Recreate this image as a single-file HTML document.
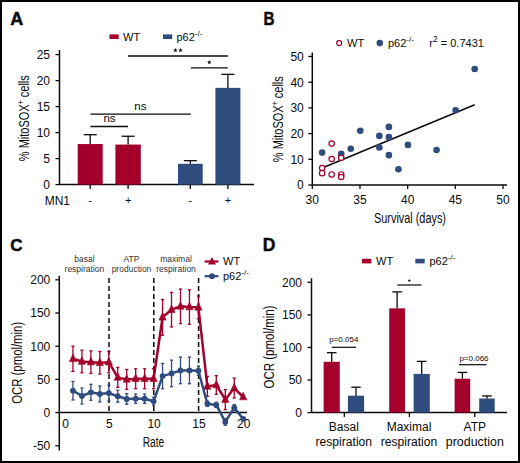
<!DOCTYPE html>
<html><head><meta charset="utf-8"><style>
html,body{margin:0;padding:0;background:#fff;}
svg{display:block;font-family:"Liberation Sans", sans-serif;}
</style></head><body>
<svg width="520" height="463" viewBox="0 0 520 463">
<rect x="0" y="0" width="520" height="463" fill="#fff"/>
<text x="10.30" y="25.00" font-size="18" text-anchor="start" font-weight="bold" fill="#0a0a0a" stroke="#111" stroke-width="0.5">A</text>
<line x1="59.50" y1="50.10" x2="59.50" y2="184.60" stroke="#0a0a0a" stroke-width="1.5" />
<line x1="59.50" y1="184.60" x2="254.00" y2="184.60" stroke="#0a0a0a" stroke-width="1.5" />
<line x1="90.20" y1="184.60" x2="90.20" y2="189.10" stroke="#0a0a0a" stroke-width="1.3" />
<line x1="128.10" y1="184.60" x2="128.10" y2="189.10" stroke="#0a0a0a" stroke-width="1.3" />
<line x1="190.30" y1="184.60" x2="190.30" y2="189.10" stroke="#0a0a0a" stroke-width="1.3" />
<line x1="227.90" y1="184.60" x2="227.90" y2="189.10" stroke="#0a0a0a" stroke-width="1.3" />
<line x1="55.50" y1="184.60" x2="59.50" y2="184.60" stroke="#0a0a0a" stroke-width="1.3" />
<text x="50.00" y="188.90" font-size="12" text-anchor="end" font-weight="normal" fill="#0a0a0a" >0</text>
<line x1="55.50" y1="158.60" x2="59.50" y2="158.60" stroke="#0a0a0a" stroke-width="1.3" />
<text x="50.00" y="162.90" font-size="12" text-anchor="end" font-weight="normal" fill="#0a0a0a" >5</text>
<line x1="55.50" y1="132.60" x2="59.50" y2="132.60" stroke="#0a0a0a" stroke-width="1.3" />
<text x="50.00" y="136.90" font-size="12" text-anchor="end" font-weight="normal" fill="#0a0a0a" >10</text>
<line x1="55.50" y1="106.60" x2="59.50" y2="106.60" stroke="#0a0a0a" stroke-width="1.3" />
<text x="50.00" y="110.90" font-size="12" text-anchor="end" font-weight="normal" fill="#0a0a0a" >15</text>
<line x1="55.50" y1="80.60" x2="59.50" y2="80.60" stroke="#0a0a0a" stroke-width="1.3" />
<text x="50.00" y="84.90" font-size="12" text-anchor="end" font-weight="normal" fill="#0a0a0a" >20</text>
<line x1="55.50" y1="54.60" x2="59.50" y2="54.60" stroke="#0a0a0a" stroke-width="1.3" />
<text x="50.00" y="58.90" font-size="12" text-anchor="end" font-weight="normal" fill="#0a0a0a" >25</text>
<text transform="translate(28.7,118.2) rotate(-90)" font-size="14.5" text-anchor="middle" fill="#0a0a0a" textLength="86" lengthAdjust="spacingAndGlyphs">% MitoSOX<tspan dy="-5" font-size="9">+</tspan><tspan dy="5"> cells</tspan></text>
<rect x="77.70" y="144.04" width="25.00" height="40.56" fill="#a3002c"/>
<line x1="90.20" y1="144.04" x2="90.20" y2="134.68" stroke="#0a0a0a" stroke-width="1.3" />
<line x1="83.70" y1="134.68" x2="96.70" y2="134.68" stroke="#0a0a0a" stroke-width="1.3" />
<rect x="115.40" y="144.56" width="25.40" height="40.04" fill="#a3002c"/>
<line x1="128.10" y1="144.56" x2="128.10" y2="136.24" stroke="#0a0a0a" stroke-width="1.3" />
<line x1="121.60" y1="136.24" x2="134.60" y2="136.24" stroke="#0a0a0a" stroke-width="1.3" />
<rect x="178.00" y="163.80" width="24.70" height="20.80" fill="#2f4c7e"/>
<line x1="190.35" y1="163.80" x2="190.35" y2="160.68" stroke="#0a0a0a" stroke-width="1.3" />
<line x1="183.85" y1="160.68" x2="196.85" y2="160.68" stroke="#0a0a0a" stroke-width="1.3" />
<rect x="215.40" y="87.88" width="25.00" height="96.72" fill="#2f4c7e"/>
<line x1="227.90" y1="87.88" x2="227.90" y2="74.36" stroke="#0a0a0a" stroke-width="1.3" />
<line x1="221.40" y1="74.36" x2="234.40" y2="74.36" stroke="#0a0a0a" stroke-width="1.3" />
<text x="70.00" y="204.50" font-size="12" text-anchor="end" font-weight="normal" fill="#0a0a0a" >MN1</text>
<text x="90.20" y="203.50" font-size="11" text-anchor="middle" font-weight="normal" fill="#0a0a0a" >-</text>
<text x="128.10" y="203.50" font-size="11" text-anchor="middle" font-weight="normal" fill="#0a0a0a" >+</text>
<text x="190.30" y="203.50" font-size="11" text-anchor="middle" font-weight="normal" fill="#0a0a0a" >-</text>
<text x="227.90" y="203.50" font-size="11" text-anchor="middle" font-weight="normal" fill="#0a0a0a" >+</text>
<line x1="90.40" y1="126.50" x2="128.00" y2="126.50" stroke="#0a0a0a" stroke-width="1.3" />
<text x="109.50" y="122.00" font-size="11.5" text-anchor="middle" font-weight="normal" fill="#0a0a0a" >ns</text>
<line x1="90.40" y1="114.20" x2="190.80" y2="114.20" stroke="#0a0a0a" stroke-width="1.3" />
<text x="140.40" y="110.00" font-size="11.5" text-anchor="middle" font-weight="normal" fill="#0a0a0a" >ns</text>
<line x1="128.00" y1="56.00" x2="227.80" y2="56.00" stroke="#0a0a0a" stroke-width="1.3" />
<polygon points="175.40,47.80 175.99,49.38 177.68,49.46 176.36,50.51 176.81,52.14 175.40,51.21 173.99,52.14 174.44,50.51 173.12,49.46 174.81,49.38" fill="#0a0a0a"/>
<polygon points="180.50,47.80 181.09,49.38 182.78,49.46 181.46,50.51 181.91,52.14 180.50,51.21 179.09,52.14 179.54,50.51 178.22,49.46 179.91,49.38" fill="#0a0a0a"/>
<line x1="190.90" y1="67.90" x2="227.80" y2="67.90" stroke="#0a0a0a" stroke-width="1.3" />
<polygon points="209.30,59.80 209.89,61.38 211.58,61.46 210.26,62.51 210.71,64.14 209.30,63.21 207.89,64.14 208.34,62.51 207.02,61.46 208.71,61.38" fill="#0a0a0a"/>
<rect x="109.50" y="34.40" width="9.20" height="4.60" fill="#a3002c"/>
<text x="123.00" y="41.00" font-size="11" text-anchor="start" font-weight="normal" fill="#0a0a0a" >WT</text>
<rect x="163.00" y="34.40" width="9.20" height="4.60" fill="#2f4c7e"/>
<text x="176.40" y="41.00" font-size="11" text-anchor="start" font-weight="normal" fill="#0a0a0a" >p62<tspan dy="-5" font-size="8">-/-</tspan></text>
<text x="263.40" y="25.00" font-size="17.5" text-anchor="start" font-weight="bold" fill="#0a0a0a" stroke="#111" stroke-width="0.5" textLength="11" lengthAdjust="spacingAndGlyphs">B</text>
<line x1="312.30" y1="52.50" x2="312.30" y2="185.00" stroke="#0a0a0a" stroke-width="1.5" />
<line x1="312.30" y1="185.00" x2="507.00" y2="185.00" stroke="#0a0a0a" stroke-width="1.5" />
<line x1="308.30" y1="185.00" x2="312.30" y2="185.00" stroke="#0a0a0a" stroke-width="1.3" />
<text x="303.80" y="189.30" font-size="12" text-anchor="end" font-weight="normal" fill="#0a0a0a" >0</text>
<line x1="308.30" y1="159.30" x2="312.30" y2="159.30" stroke="#0a0a0a" stroke-width="1.3" />
<text x="303.80" y="163.60" font-size="12" text-anchor="end" font-weight="normal" fill="#0a0a0a" >10</text>
<line x1="308.30" y1="133.60" x2="312.30" y2="133.60" stroke="#0a0a0a" stroke-width="1.3" />
<text x="303.80" y="137.90" font-size="12" text-anchor="end" font-weight="normal" fill="#0a0a0a" >20</text>
<line x1="308.30" y1="107.90" x2="312.30" y2="107.90" stroke="#0a0a0a" stroke-width="1.3" />
<text x="303.80" y="112.20" font-size="12" text-anchor="end" font-weight="normal" fill="#0a0a0a" >30</text>
<line x1="308.30" y1="82.20" x2="312.30" y2="82.20" stroke="#0a0a0a" stroke-width="1.3" />
<text x="303.80" y="86.50" font-size="12" text-anchor="end" font-weight="normal" fill="#0a0a0a" >40</text>
<line x1="308.30" y1="56.50" x2="312.30" y2="56.50" stroke="#0a0a0a" stroke-width="1.3" />
<text x="303.80" y="60.80" font-size="12" text-anchor="end" font-weight="normal" fill="#0a0a0a" >50</text>
<line x1="312.30" y1="185.00" x2="312.30" y2="189.00" stroke="#0a0a0a" stroke-width="1.3" />
<text x="312.30" y="204.30" font-size="12" text-anchor="middle" font-weight="normal" fill="#0a0a0a" >30</text>
<line x1="359.98" y1="185.00" x2="359.98" y2="189.00" stroke="#0a0a0a" stroke-width="1.3" />
<text x="359.98" y="204.30" font-size="12" text-anchor="middle" font-weight="normal" fill="#0a0a0a" >35</text>
<line x1="407.65" y1="185.00" x2="407.65" y2="189.00" stroke="#0a0a0a" stroke-width="1.3" />
<text x="407.65" y="204.30" font-size="12" text-anchor="middle" font-weight="normal" fill="#0a0a0a" >40</text>
<line x1="455.33" y1="185.00" x2="455.33" y2="189.00" stroke="#0a0a0a" stroke-width="1.3" />
<text x="455.33" y="204.30" font-size="12" text-anchor="middle" font-weight="normal" fill="#0a0a0a" >45</text>
<line x1="503.00" y1="185.00" x2="503.00" y2="189.00" stroke="#0a0a0a" stroke-width="1.3" />
<text x="503.00" y="204.30" font-size="12" text-anchor="middle" font-weight="normal" fill="#0a0a0a" >50</text>
<text x="410.00" y="222.80" font-size="14" text-anchor="middle" font-weight="normal" fill="#0a0a0a" textLength="72" lengthAdjust="spacingAndGlyphs">Survival (days)</text>
<text transform="translate(282.8,119.2) rotate(-90)" font-size="14.5" text-anchor="middle" fill="#0a0a0a" textLength="86" lengthAdjust="spacingAndGlyphs">% MitoSOX<tspan dy="-5" font-size="9">+</tspan><tspan dy="5"> cells</tspan></text>
<line x1="322.14" y1="168.01" x2="474.69" y2="104.79" stroke="#0a0a0a" stroke-width="1.5" />
<circle cx="322.14" cy="152.59" r="3.3" fill="#2f4c7e"/>
<circle cx="341.21" cy="153.88" r="3.3" fill="#2f4c7e"/>
<circle cx="350.74" cy="148.74" r="3.3" fill="#2f4c7e"/>
<circle cx="360.28" cy="130.75" r="3.3" fill="#2f4c7e"/>
<circle cx="379.35" cy="135.88" r="3.3" fill="#2f4c7e"/>
<circle cx="379.35" cy="147.45" r="3.3" fill="#2f4c7e"/>
<circle cx="388.88" cy="126.89" r="3.3" fill="#2f4c7e"/>
<circle cx="388.88" cy="137.17" r="3.3" fill="#2f4c7e"/>
<circle cx="388.88" cy="155.16" r="3.3" fill="#2f4c7e"/>
<circle cx="398.42" cy="169.30" r="3.3" fill="#2f4c7e"/>
<circle cx="407.95" cy="144.88" r="3.3" fill="#2f4c7e"/>
<circle cx="436.56" cy="150.02" r="3.3" fill="#2f4c7e"/>
<circle cx="455.63" cy="110.19" r="3.3" fill="#2f4c7e"/>
<circle cx="474.69" cy="69.07" r="3.3" fill="#2f4c7e"/>
<circle cx="322.14" cy="168.01" r="2.7" fill="white" stroke="#a3002c" stroke-width="1.2"/>
<circle cx="322.14" cy="173.15" r="2.7" fill="white" stroke="#a3002c" stroke-width="1.2"/>
<circle cx="331.67" cy="143.59" r="2.7" fill="white" stroke="#a3002c" stroke-width="1.2"/>
<circle cx="331.67" cy="159.01" r="2.7" fill="white" stroke="#a3002c" stroke-width="1.2"/>
<circle cx="331.67" cy="174.44" r="2.7" fill="white" stroke="#a3002c" stroke-width="1.2"/>
<circle cx="341.21" cy="157.73" r="2.7" fill="white" stroke="#a3002c" stroke-width="1.2"/>
<circle cx="341.21" cy="174.44" r="2.7" fill="white" stroke="#a3002c" stroke-width="1.2"/>
<circle cx="341.21" cy="177.00" r="2.7" fill="white" stroke="#a3002c" stroke-width="1.2"/>
<circle cx="339.2" cy="43.1" r="2.5" fill="white" stroke="#a3002c" stroke-width="1.2"/>
<text x="347.00" y="47.00" font-size="11" text-anchor="start" font-weight="normal" fill="#0a0a0a" >WT</text>
<circle cx="379.8" cy="43.1" r="3.3" fill="#2f4c7e"/>
<text x="388.00" y="47.00" font-size="11" text-anchor="start" font-weight="normal" fill="#0a0a0a" >p62<tspan dy="-5" font-size="8">-/-</tspan></text>
<text x="429.30" y="47.00" font-size="11" text-anchor="start" font-weight="normal" fill="#0a0a0a" >r<tspan dy="-5" font-size="8.5">2</tspan><tspan dy="5"> = 0.7431</tspan></text>
<text x="10.30" y="251.00" font-size="17" text-anchor="start" font-weight="bold" fill="#0a0a0a" stroke="#111" stroke-width="0.5">C</text>
<line x1="59.30" y1="275.80" x2="59.30" y2="450.50" stroke="#0a0a0a" stroke-width="1.5" />
<line x1="59.30" y1="412.60" x2="247.00" y2="412.60" stroke="#0a0a0a" stroke-width="1.5" />
<line x1="55.30" y1="445.80" x2="59.30" y2="445.80" stroke="#0a0a0a" stroke-width="1.3" />
<text x="50.30" y="450.10" font-size="12" text-anchor="end" font-weight="normal" fill="#0a0a0a" >-50</text>
<line x1="55.30" y1="412.60" x2="59.30" y2="412.60" stroke="#0a0a0a" stroke-width="1.3" />
<text x="50.30" y="416.90" font-size="12" text-anchor="end" font-weight="normal" fill="#0a0a0a" >0</text>
<line x1="55.30" y1="379.40" x2="59.30" y2="379.40" stroke="#0a0a0a" stroke-width="1.3" />
<text x="50.30" y="383.70" font-size="12" text-anchor="end" font-weight="normal" fill="#0a0a0a" >50</text>
<line x1="55.30" y1="346.20" x2="59.30" y2="346.20" stroke="#0a0a0a" stroke-width="1.3" />
<text x="50.30" y="350.50" font-size="12" text-anchor="end" font-weight="normal" fill="#0a0a0a" >100</text>
<line x1="55.30" y1="313.00" x2="59.30" y2="313.00" stroke="#0a0a0a" stroke-width="1.3" />
<text x="50.30" y="317.30" font-size="12" text-anchor="end" font-weight="normal" fill="#0a0a0a" >150</text>
<line x1="55.30" y1="279.80" x2="59.30" y2="279.80" stroke="#0a0a0a" stroke-width="1.3" />
<text x="50.30" y="284.10" font-size="12" text-anchor="end" font-weight="normal" fill="#0a0a0a" >200</text>
<text x="65.50" y="428.10" font-size="12" text-anchor="middle" font-weight="normal" fill="#0a0a0a" >0</text>
<text x="109.30" y="428.10" font-size="12" text-anchor="middle" font-weight="normal" fill="#0a0a0a" >5</text>
<text x="154.10" y="428.10" font-size="12" text-anchor="middle" font-weight="normal" fill="#0a0a0a" >10</text>
<text x="198.90" y="428.10" font-size="12" text-anchor="middle" font-weight="normal" fill="#0a0a0a" >15</text>
<text x="243.70" y="428.10" font-size="12" text-anchor="middle" font-weight="normal" fill="#0a0a0a" >20</text>
<text x="153.50" y="447.00" font-size="14" text-anchor="middle" font-weight="normal" fill="#0a0a0a" textLength="21.5" lengthAdjust="spacingAndGlyphs">Rate</text>
<text transform="translate(22.3,362.8) rotate(-90)" font-size="14" text-anchor="middle" fill="#0a0a0a" textLength="82" lengthAdjust="spacingAndGlyphs">OCR (pmol/min)</text>
<line x1="109.00" y1="278.00" x2="109.00" y2="411.00" stroke="#0a0a0a" stroke-width="1.5" stroke-dasharray="5,3"/>
<line x1="153.80" y1="278.00" x2="153.80" y2="411.00" stroke="#0a0a0a" stroke-width="1.5" stroke-dasharray="5,3"/>
<line x1="198.60" y1="278.00" x2="198.60" y2="411.00" stroke="#0a0a0a" stroke-width="1.5" stroke-dasharray="5,3"/>
<text x="84.40" y="262.00" font-size="8.5" text-anchor="middle" font-weight="normal" fill="#333" >basal</text>
<text x="84.40" y="272.00" font-size="8.5" text-anchor="middle" font-weight="normal" fill="#333" >respiration</text>
<text x="131.50" y="262.00" font-size="8.5" text-anchor="middle" font-weight="normal" fill="#333" >ATP</text>
<text x="131.50" y="272.00" font-size="8.5" text-anchor="middle" font-weight="normal" fill="#333" >production</text>
<text x="176.00" y="262.00" font-size="8.5" text-anchor="middle" font-weight="normal" fill="#333" >maximal</text>
<text x="176.00" y="272.00" font-size="8.5" text-anchor="middle" font-weight="normal" fill="#333" >respiration</text>
<polyline points="72.96,358.82 81.92,361.47 90.88,362.14 99.84,362.80 108.80,362.14 117.76,377.41 126.72,379.40 135.68,378.74 144.64,378.74 153.60,378.74 162.56,317.32 171.52,309.68 180.48,306.36 189.44,307.02 198.40,307.36 207.36,386.37 216.32,384.98 225.28,399.65 234.24,388.03 243.20,397.00" fill="none" stroke="#a3002c" stroke-width="2.5" stroke-linejoin="round"/>
<line x1="72.96" y1="371.43" x2="72.96" y2="346.20" stroke="#a3002c" stroke-width="1.3" />
<line x1="71.36" y1="346.20" x2="74.56" y2="346.20" stroke="#a3002c" stroke-width="1.3" />
<line x1="71.36" y1="371.43" x2="74.56" y2="371.43" stroke="#a3002c" stroke-width="1.3" />
<polygon points="72.96,354.02 69.36,361.62 76.56,361.62" fill="#a3002c" stroke="#a3002c" stroke-width="0.6" stroke-linejoin="round"/>
<line x1="81.92" y1="372.76" x2="81.92" y2="350.18" stroke="#a3002c" stroke-width="1.3" />
<line x1="80.32" y1="350.18" x2="83.52" y2="350.18" stroke="#a3002c" stroke-width="1.3" />
<line x1="80.32" y1="372.76" x2="83.52" y2="372.76" stroke="#a3002c" stroke-width="1.3" />
<polygon points="81.92,356.67 78.32,364.27 85.52,364.27" fill="#a3002c" stroke="#a3002c" stroke-width="0.6" stroke-linejoin="round"/>
<line x1="90.88" y1="373.42" x2="90.88" y2="350.85" stroke="#a3002c" stroke-width="1.3" />
<line x1="89.28" y1="350.85" x2="92.48" y2="350.85" stroke="#a3002c" stroke-width="1.3" />
<line x1="89.28" y1="373.42" x2="92.48" y2="373.42" stroke="#a3002c" stroke-width="1.3" />
<polygon points="90.88,357.34 87.28,364.94 94.48,364.94" fill="#a3002c" stroke="#a3002c" stroke-width="0.6" stroke-linejoin="round"/>
<line x1="99.84" y1="374.09" x2="99.84" y2="351.51" stroke="#a3002c" stroke-width="1.3" />
<line x1="98.24" y1="351.51" x2="101.44" y2="351.51" stroke="#a3002c" stroke-width="1.3" />
<line x1="98.24" y1="374.09" x2="101.44" y2="374.09" stroke="#a3002c" stroke-width="1.3" />
<polygon points="99.84,358.00 96.24,365.60 103.44,365.60" fill="#a3002c" stroke="#a3002c" stroke-width="0.6" stroke-linejoin="round"/>
<line x1="108.80" y1="372.76" x2="108.80" y2="351.51" stroke="#a3002c" stroke-width="1.3" />
<line x1="107.20" y1="351.51" x2="110.40" y2="351.51" stroke="#a3002c" stroke-width="1.3" />
<line x1="107.20" y1="372.76" x2="110.40" y2="372.76" stroke="#a3002c" stroke-width="1.3" />
<polygon points="108.80,357.34 105.20,364.94 112.40,364.94" fill="#a3002c" stroke="#a3002c" stroke-width="0.6" stroke-linejoin="round"/>
<line x1="117.76" y1="387.37" x2="117.76" y2="367.45" stroke="#a3002c" stroke-width="1.3" />
<line x1="116.16" y1="367.45" x2="119.36" y2="367.45" stroke="#a3002c" stroke-width="1.3" />
<line x1="116.16" y1="387.37" x2="119.36" y2="387.37" stroke="#a3002c" stroke-width="1.3" />
<polygon points="117.76,372.61 114.16,380.21 121.36,380.21" fill="#a3002c" stroke="#a3002c" stroke-width="0.6" stroke-linejoin="round"/>
<line x1="126.72" y1="389.36" x2="126.72" y2="369.44" stroke="#a3002c" stroke-width="1.3" />
<line x1="125.12" y1="369.44" x2="128.32" y2="369.44" stroke="#a3002c" stroke-width="1.3" />
<line x1="125.12" y1="389.36" x2="128.32" y2="389.36" stroke="#a3002c" stroke-width="1.3" />
<polygon points="126.72,374.60 123.12,382.20 130.32,382.20" fill="#a3002c" stroke="#a3002c" stroke-width="0.6" stroke-linejoin="round"/>
<line x1="135.68" y1="388.70" x2="135.68" y2="368.78" stroke="#a3002c" stroke-width="1.3" />
<line x1="134.08" y1="368.78" x2="137.28" y2="368.78" stroke="#a3002c" stroke-width="1.3" />
<line x1="134.08" y1="388.70" x2="137.28" y2="388.70" stroke="#a3002c" stroke-width="1.3" />
<polygon points="135.68,373.94 132.08,381.54 139.28,381.54" fill="#a3002c" stroke="#a3002c" stroke-width="0.6" stroke-linejoin="round"/>
<line x1="144.64" y1="388.70" x2="144.64" y2="368.78" stroke="#a3002c" stroke-width="1.3" />
<line x1="143.04" y1="368.78" x2="146.24" y2="368.78" stroke="#a3002c" stroke-width="1.3" />
<line x1="143.04" y1="388.70" x2="146.24" y2="388.70" stroke="#a3002c" stroke-width="1.3" />
<polygon points="144.64,373.94 141.04,381.54 148.24,381.54" fill="#a3002c" stroke="#a3002c" stroke-width="0.6" stroke-linejoin="round"/>
<line x1="153.60" y1="388.70" x2="153.60" y2="368.78" stroke="#a3002c" stroke-width="1.3" />
<line x1="152.00" y1="368.78" x2="155.20" y2="368.78" stroke="#a3002c" stroke-width="1.3" />
<line x1="152.00" y1="388.70" x2="155.20" y2="388.70" stroke="#a3002c" stroke-width="1.3" />
<polygon points="153.60,373.94 150.00,381.54 157.20,381.54" fill="#a3002c" stroke="#a3002c" stroke-width="0.6" stroke-linejoin="round"/>
<line x1="162.56" y1="335.24" x2="162.56" y2="299.39" stroke="#a3002c" stroke-width="1.3" />
<line x1="160.96" y1="299.39" x2="164.16" y2="299.39" stroke="#a3002c" stroke-width="1.3" />
<line x1="160.96" y1="335.24" x2="164.16" y2="335.24" stroke="#a3002c" stroke-width="1.3" />
<polygon points="162.56,312.52 158.96,320.12 166.16,320.12" fill="#a3002c" stroke="#a3002c" stroke-width="0.6" stroke-linejoin="round"/>
<line x1="171.52" y1="326.94" x2="171.52" y2="292.42" stroke="#a3002c" stroke-width="1.3" />
<line x1="169.92" y1="292.42" x2="173.12" y2="292.42" stroke="#a3002c" stroke-width="1.3" />
<line x1="169.92" y1="326.94" x2="173.12" y2="326.94" stroke="#a3002c" stroke-width="1.3" />
<polygon points="171.52,304.88 167.92,312.48 175.12,312.48" fill="#a3002c" stroke="#a3002c" stroke-width="0.6" stroke-linejoin="round"/>
<line x1="180.48" y1="323.62" x2="180.48" y2="289.10" stroke="#a3002c" stroke-width="1.3" />
<line x1="178.88" y1="289.10" x2="182.08" y2="289.10" stroke="#a3002c" stroke-width="1.3" />
<line x1="178.88" y1="323.62" x2="182.08" y2="323.62" stroke="#a3002c" stroke-width="1.3" />
<polygon points="180.48,301.56 176.88,309.16 184.08,309.16" fill="#a3002c" stroke="#a3002c" stroke-width="0.6" stroke-linejoin="round"/>
<line x1="189.44" y1="324.29" x2="189.44" y2="289.76" stroke="#a3002c" stroke-width="1.3" />
<line x1="187.84" y1="289.76" x2="191.04" y2="289.76" stroke="#a3002c" stroke-width="1.3" />
<line x1="187.84" y1="324.29" x2="191.04" y2="324.29" stroke="#a3002c" stroke-width="1.3" />
<polygon points="189.44,302.22 185.84,309.82 193.04,309.82" fill="#a3002c" stroke="#a3002c" stroke-width="0.6" stroke-linejoin="round"/>
<line x1="198.40" y1="318.64" x2="198.40" y2="296.07" stroke="#a3002c" stroke-width="1.3" />
<line x1="196.80" y1="296.07" x2="200.00" y2="296.07" stroke="#a3002c" stroke-width="1.3" />
<line x1="196.80" y1="318.64" x2="200.00" y2="318.64" stroke="#a3002c" stroke-width="1.3" />
<polygon points="198.40,302.56 194.80,310.16 202.00,310.16" fill="#a3002c" stroke="#a3002c" stroke-width="0.6" stroke-linejoin="round"/>
<line x1="207.36" y1="396.33" x2="207.36" y2="376.41" stroke="#a3002c" stroke-width="1.3" />
<line x1="205.76" y1="376.41" x2="208.96" y2="376.41" stroke="#a3002c" stroke-width="1.3" />
<line x1="205.76" y1="396.33" x2="208.96" y2="396.33" stroke="#a3002c" stroke-width="1.3" />
<polygon points="207.36,381.57 203.76,389.17 210.96,389.17" fill="#a3002c" stroke="#a3002c" stroke-width="0.6" stroke-linejoin="round"/>
<line x1="216.32" y1="394.27" x2="216.32" y2="375.68" stroke="#a3002c" stroke-width="1.3" />
<line x1="214.72" y1="375.68" x2="217.92" y2="375.68" stroke="#a3002c" stroke-width="1.3" />
<line x1="214.72" y1="394.27" x2="217.92" y2="394.27" stroke="#a3002c" stroke-width="1.3" />
<polygon points="216.32,380.18 212.72,387.78 219.92,387.78" fill="#a3002c" stroke="#a3002c" stroke-width="0.6" stroke-linejoin="round"/>
<line x1="225.28" y1="409.61" x2="225.28" y2="389.69" stroke="#a3002c" stroke-width="1.3" />
<line x1="223.68" y1="389.69" x2="226.88" y2="389.69" stroke="#a3002c" stroke-width="1.3" />
<line x1="223.68" y1="409.61" x2="226.88" y2="409.61" stroke="#a3002c" stroke-width="1.3" />
<polygon points="225.28,394.85 221.68,402.45 228.88,402.45" fill="#a3002c" stroke="#a3002c" stroke-width="0.6" stroke-linejoin="round"/>
<line x1="234.24" y1="397.99" x2="234.24" y2="378.07" stroke="#a3002c" stroke-width="1.3" />
<line x1="232.64" y1="378.07" x2="235.84" y2="378.07" stroke="#a3002c" stroke-width="1.3" />
<line x1="232.64" y1="397.99" x2="235.84" y2="397.99" stroke="#a3002c" stroke-width="1.3" />
<polygon points="234.24,383.23 230.64,390.83 237.84,390.83" fill="#a3002c" stroke="#a3002c" stroke-width="0.6" stroke-linejoin="round"/>
<polygon points="243.20,392.20 239.60,399.80 246.80,399.80" fill="#a3002c" stroke="#a3002c" stroke-width="0.6" stroke-linejoin="round"/>
<polyline points="72.96,390.69 81.92,396.00 90.88,392.28 99.84,394.01 108.80,393.08 117.76,396.20 126.72,398.99 135.68,398.72 144.64,398.72 153.60,401.31 162.56,376.08 171.52,373.42 180.48,370.44 189.44,370.44 198.40,370.77 207.36,403.77 216.32,404.90 225.28,421.90 234.24,407.62 243.20,418.97" fill="none" stroke="#2f4c7e" stroke-width="2.5" stroke-linejoin="round"/>
<line x1="72.96" y1="399.98" x2="72.96" y2="381.39" stroke="#2f4c7e" stroke-width="1.3" />
<line x1="71.36" y1="381.39" x2="74.56" y2="381.39" stroke="#2f4c7e" stroke-width="1.3" />
<line x1="71.36" y1="399.98" x2="74.56" y2="399.98" stroke="#2f4c7e" stroke-width="1.3" />
<circle cx="72.96" cy="390.69" r="2.9" fill="#2f4c7e"/>
<line x1="81.92" y1="403.97" x2="81.92" y2="388.03" stroke="#2f4c7e" stroke-width="1.3" />
<line x1="80.32" y1="388.03" x2="83.52" y2="388.03" stroke="#2f4c7e" stroke-width="1.3" />
<line x1="80.32" y1="403.97" x2="83.52" y2="403.97" stroke="#2f4c7e" stroke-width="1.3" />
<circle cx="81.92" cy="396.00" r="2.9" fill="#2f4c7e"/>
<line x1="90.88" y1="400.25" x2="90.88" y2="384.31" stroke="#2f4c7e" stroke-width="1.3" />
<line x1="89.28" y1="384.31" x2="92.48" y2="384.31" stroke="#2f4c7e" stroke-width="1.3" />
<line x1="89.28" y1="400.25" x2="92.48" y2="400.25" stroke="#2f4c7e" stroke-width="1.3" />
<circle cx="90.88" cy="392.28" r="2.9" fill="#2f4c7e"/>
<line x1="99.84" y1="401.98" x2="99.84" y2="386.04" stroke="#2f4c7e" stroke-width="1.3" />
<line x1="98.24" y1="386.04" x2="101.44" y2="386.04" stroke="#2f4c7e" stroke-width="1.3" />
<line x1="98.24" y1="401.98" x2="101.44" y2="401.98" stroke="#2f4c7e" stroke-width="1.3" />
<circle cx="99.84" cy="394.01" r="2.9" fill="#2f4c7e"/>
<line x1="108.80" y1="401.05" x2="108.80" y2="385.11" stroke="#2f4c7e" stroke-width="1.3" />
<line x1="107.20" y1="385.11" x2="110.40" y2="385.11" stroke="#2f4c7e" stroke-width="1.3" />
<line x1="107.20" y1="401.05" x2="110.40" y2="401.05" stroke="#2f4c7e" stroke-width="1.3" />
<circle cx="108.80" cy="393.08" r="2.9" fill="#2f4c7e"/>
<line x1="117.76" y1="402.18" x2="117.76" y2="390.22" stroke="#2f4c7e" stroke-width="1.3" />
<line x1="116.16" y1="390.22" x2="119.36" y2="390.22" stroke="#2f4c7e" stroke-width="1.3" />
<line x1="116.16" y1="402.18" x2="119.36" y2="402.18" stroke="#2f4c7e" stroke-width="1.3" />
<circle cx="117.76" cy="396.20" r="2.9" fill="#2f4c7e"/>
<line x1="126.72" y1="404.30" x2="126.72" y2="393.68" stroke="#2f4c7e" stroke-width="1.3" />
<line x1="125.12" y1="393.68" x2="128.32" y2="393.68" stroke="#2f4c7e" stroke-width="1.3" />
<line x1="125.12" y1="404.30" x2="128.32" y2="404.30" stroke="#2f4c7e" stroke-width="1.3" />
<circle cx="126.72" cy="398.99" r="2.9" fill="#2f4c7e"/>
<line x1="135.68" y1="403.37" x2="135.68" y2="394.07" stroke="#2f4c7e" stroke-width="1.3" />
<line x1="134.08" y1="394.07" x2="137.28" y2="394.07" stroke="#2f4c7e" stroke-width="1.3" />
<line x1="134.08" y1="403.37" x2="137.28" y2="403.37" stroke="#2f4c7e" stroke-width="1.3" />
<circle cx="135.68" cy="398.72" r="2.9" fill="#2f4c7e"/>
<line x1="144.64" y1="403.37" x2="144.64" y2="394.07" stroke="#2f4c7e" stroke-width="1.3" />
<line x1="143.04" y1="394.07" x2="146.24" y2="394.07" stroke="#2f4c7e" stroke-width="1.3" />
<line x1="143.04" y1="403.37" x2="146.24" y2="403.37" stroke="#2f4c7e" stroke-width="1.3" />
<circle cx="144.64" cy="398.72" r="2.9" fill="#2f4c7e"/>
<line x1="153.60" y1="405.30" x2="153.60" y2="397.33" stroke="#2f4c7e" stroke-width="1.3" />
<line x1="152.00" y1="397.33" x2="155.20" y2="397.33" stroke="#2f4c7e" stroke-width="1.3" />
<line x1="152.00" y1="405.30" x2="155.20" y2="405.30" stroke="#2f4c7e" stroke-width="1.3" />
<circle cx="153.60" cy="401.31" r="2.9" fill="#2f4c7e"/>
<line x1="162.56" y1="388.70" x2="162.56" y2="363.46" stroke="#2f4c7e" stroke-width="1.3" />
<line x1="160.96" y1="363.46" x2="164.16" y2="363.46" stroke="#2f4c7e" stroke-width="1.3" />
<line x1="160.96" y1="388.70" x2="164.16" y2="388.70" stroke="#2f4c7e" stroke-width="1.3" />
<circle cx="162.56" cy="376.08" r="2.9" fill="#2f4c7e"/>
<line x1="171.52" y1="386.70" x2="171.52" y2="360.14" stroke="#2f4c7e" stroke-width="1.3" />
<line x1="169.92" y1="360.14" x2="173.12" y2="360.14" stroke="#2f4c7e" stroke-width="1.3" />
<line x1="169.92" y1="386.70" x2="173.12" y2="386.70" stroke="#2f4c7e" stroke-width="1.3" />
<circle cx="171.52" cy="373.42" r="2.9" fill="#2f4c7e"/>
<line x1="180.48" y1="383.72" x2="180.48" y2="357.16" stroke="#2f4c7e" stroke-width="1.3" />
<line x1="178.88" y1="357.16" x2="182.08" y2="357.16" stroke="#2f4c7e" stroke-width="1.3" />
<line x1="178.88" y1="383.72" x2="182.08" y2="383.72" stroke="#2f4c7e" stroke-width="1.3" />
<circle cx="180.48" cy="370.44" r="2.9" fill="#2f4c7e"/>
<line x1="189.44" y1="383.72" x2="189.44" y2="357.16" stroke="#2f4c7e" stroke-width="1.3" />
<line x1="187.84" y1="357.16" x2="191.04" y2="357.16" stroke="#2f4c7e" stroke-width="1.3" />
<line x1="187.84" y1="383.72" x2="191.04" y2="383.72" stroke="#2f4c7e" stroke-width="1.3" />
<circle cx="189.44" cy="370.44" r="2.9" fill="#2f4c7e"/>
<line x1="198.40" y1="375.42" x2="198.40" y2="366.12" stroke="#2f4c7e" stroke-width="1.3" />
<line x1="196.80" y1="366.12" x2="200.00" y2="366.12" stroke="#2f4c7e" stroke-width="1.3" />
<line x1="196.80" y1="375.42" x2="200.00" y2="375.42" stroke="#2f4c7e" stroke-width="1.3" />
<circle cx="198.40" cy="370.77" r="2.9" fill="#2f4c7e"/>
<line x1="207.36" y1="406.42" x2="207.36" y2="401.11" stroke="#2f4c7e" stroke-width="1.3" />
<line x1="205.76" y1="401.11" x2="208.96" y2="401.11" stroke="#2f4c7e" stroke-width="1.3" />
<line x1="205.76" y1="406.42" x2="208.96" y2="406.42" stroke="#2f4c7e" stroke-width="1.3" />
<circle cx="207.36" cy="403.77" r="2.9" fill="#2f4c7e"/>
<line x1="216.32" y1="407.55" x2="216.32" y2="402.24" stroke="#2f4c7e" stroke-width="1.3" />
<line x1="214.72" y1="402.24" x2="217.92" y2="402.24" stroke="#2f4c7e" stroke-width="1.3" />
<line x1="214.72" y1="407.55" x2="217.92" y2="407.55" stroke="#2f4c7e" stroke-width="1.3" />
<circle cx="216.32" cy="404.90" r="2.9" fill="#2f4c7e"/>
<line x1="225.28" y1="425.22" x2="225.28" y2="418.58" stroke="#2f4c7e" stroke-width="1.3" />
<line x1="223.68" y1="418.58" x2="226.88" y2="418.58" stroke="#2f4c7e" stroke-width="1.3" />
<line x1="223.68" y1="425.22" x2="226.88" y2="425.22" stroke="#2f4c7e" stroke-width="1.3" />
<circle cx="225.28" cy="421.90" r="2.9" fill="#2f4c7e"/>
<line x1="234.24" y1="410.67" x2="234.24" y2="404.57" stroke="#2f4c7e" stroke-width="1.3" />
<line x1="232.64" y1="404.57" x2="235.84" y2="404.57" stroke="#2f4c7e" stroke-width="1.3" />
<line x1="232.64" y1="410.67" x2="235.84" y2="410.67" stroke="#2f4c7e" stroke-width="1.3" />
<circle cx="234.24" cy="407.62" r="2.9" fill="#2f4c7e"/>
<circle cx="243.20" cy="418.97" r="2.9" fill="#2f4c7e"/>
<line x1="204.60" y1="261.50" x2="218.50" y2="261.50" stroke="#a3002c" stroke-width="2.2" />
<polygon points="212,257 208,264.5 216,264.5" fill="#a3002c"/>
<text x="223.00" y="264.50" font-size="11" text-anchor="start" font-weight="normal" fill="#0a0a0a" >WT</text>
<line x1="204.60" y1="276.20" x2="218.50" y2="276.20" stroke="#2f4c7e" stroke-width="2.2" />
<circle cx="212" cy="276.2" r="2.9" fill="#2f4c7e"/>
<text x="223.00" y="279.50" font-size="11" text-anchor="start" font-weight="normal" fill="#0a0a0a" >p62<tspan dy="-5" font-size="8">-/-</tspan></text>
<text x="262.80" y="251.00" font-size="17.5" text-anchor="start" font-weight="bold" fill="#0a0a0a" stroke="#111" stroke-width="0.5">D</text>
<line x1="311.50" y1="278.30" x2="311.50" y2="412.60" stroke="#0a0a0a" stroke-width="1.5" />
<line x1="311.50" y1="412.60" x2="507.00" y2="412.60" stroke="#0a0a0a" stroke-width="1.5" />
<line x1="344.30" y1="412.60" x2="344.30" y2="417.10" stroke="#0a0a0a" stroke-width="1.3" />
<line x1="409.40" y1="412.60" x2="409.40" y2="417.10" stroke="#0a0a0a" stroke-width="1.3" />
<line x1="474.80" y1="412.60" x2="474.80" y2="417.10" stroke="#0a0a0a" stroke-width="1.3" />
<line x1="307.50" y1="412.60" x2="311.50" y2="412.60" stroke="#0a0a0a" stroke-width="1.3" />
<text x="302.00" y="416.90" font-size="12" text-anchor="end" font-weight="normal" fill="#0a0a0a" >0</text>
<line x1="307.50" y1="380.03" x2="311.50" y2="380.03" stroke="#0a0a0a" stroke-width="1.3" />
<text x="302.00" y="384.33" font-size="12" text-anchor="end" font-weight="normal" fill="#0a0a0a" >50</text>
<line x1="307.50" y1="347.45" x2="311.50" y2="347.45" stroke="#0a0a0a" stroke-width="1.3" />
<text x="302.00" y="351.75" font-size="12" text-anchor="end" font-weight="normal" fill="#0a0a0a" >100</text>
<line x1="307.50" y1="314.88" x2="311.50" y2="314.88" stroke="#0a0a0a" stroke-width="1.3" />
<text x="302.00" y="319.18" font-size="12" text-anchor="end" font-weight="normal" fill="#0a0a0a" >150</text>
<line x1="307.50" y1="282.30" x2="311.50" y2="282.30" stroke="#0a0a0a" stroke-width="1.3" />
<text x="302.00" y="286.60" font-size="12" text-anchor="end" font-weight="normal" fill="#0a0a0a" >200</text>
<text transform="translate(274.3,347) rotate(-90)" font-size="14" text-anchor="middle" fill="#0a0a0a" textLength="83" lengthAdjust="spacingAndGlyphs">OCR (pmol/min)</text>
<rect x="323.60" y="361.78" width="16.20" height="50.82" fill="#a3002c"/>
<line x1="331.70" y1="361.78" x2="331.70" y2="352.66" stroke="#0a0a0a" stroke-width="1.3" />
<line x1="326.90" y1="352.66" x2="336.50" y2="352.66" stroke="#0a0a0a" stroke-width="1.3" />
<rect x="347.90" y="395.66" width="16.20" height="16.94" fill="#2f4c7e"/>
<line x1="356.00" y1="395.66" x2="356.00" y2="387.19" stroke="#0a0a0a" stroke-width="1.3" />
<line x1="351.20" y1="387.19" x2="360.80" y2="387.19" stroke="#0a0a0a" stroke-width="1.3" />
<rect x="389.20" y="308.36" width="15.80" height="104.24" fill="#a3002c"/>
<line x1="397.10" y1="308.36" x2="397.10" y2="291.88" stroke="#0a0a0a" stroke-width="1.3" />
<line x1="392.30" y1="291.88" x2="401.90" y2="291.88" stroke="#0a0a0a" stroke-width="1.3" />
<rect x="413.60" y="373.90" width="16.20" height="38.70" fill="#2f4c7e"/>
<line x1="421.70" y1="373.90" x2="421.70" y2="361.39" stroke="#0a0a0a" stroke-width="1.3" />
<line x1="416.90" y1="361.39" x2="426.50" y2="361.39" stroke="#0a0a0a" stroke-width="1.3" />
<rect x="454.60" y="378.72" width="15.60" height="33.88" fill="#a3002c"/>
<line x1="462.40" y1="378.72" x2="462.40" y2="372.40" stroke="#0a0a0a" stroke-width="1.3" />
<line x1="457.60" y1="372.40" x2="467.20" y2="372.40" stroke="#0a0a0a" stroke-width="1.3" />
<rect x="479.20" y="398.53" width="15.50" height="14.07" fill="#2f4c7e"/>
<line x1="486.95" y1="398.53" x2="486.95" y2="395.92" stroke="#0a0a0a" stroke-width="1.3" />
<line x1="482.15" y1="395.92" x2="491.75" y2="395.92" stroke="#0a0a0a" stroke-width="1.3" />
<text x="343.80" y="431.00" font-size="12" text-anchor="middle" font-weight="normal" fill="#0a0a0a" >Basal</text>
<text x="343.80" y="446.00" font-size="12" text-anchor="middle" font-weight="normal" fill="#0a0a0a" textLength="56.5" lengthAdjust="spacingAndGlyphs">respiration</text>
<text x="409.00" y="431.00" font-size="12" text-anchor="middle" font-weight="normal" fill="#0a0a0a" >Maximal</text>
<text x="409.00" y="446.00" font-size="12" text-anchor="middle" font-weight="normal" fill="#0a0a0a" textLength="56.5" lengthAdjust="spacingAndGlyphs">respiration</text>
<text x="474.80" y="431.00" font-size="12" text-anchor="middle" font-weight="normal" fill="#0a0a0a" >ATP</text>
<text x="474.80" y="446.00" font-size="12" text-anchor="middle" font-weight="normal" fill="#0a0a0a" textLength="58" lengthAdjust="spacingAndGlyphs">production</text>
<line x1="331.70" y1="347.30" x2="356.00" y2="347.30" stroke="#0a0a0a" stroke-width="1.2" />
<text x="343.80" y="342.30" font-size="8" text-anchor="middle" font-weight="normal" fill="#0a0a0a" >p=0.054</text>
<line x1="397.30" y1="285.00" x2="421.50" y2="285.00" stroke="#0a0a0a" stroke-width="1.2" />
<polygon points="409.30,278.80 409.74,279.99 411.01,280.04 410.02,280.83 410.36,282.06 409.30,281.36 408.24,282.06 408.58,280.83 407.59,280.04 408.86,279.99" fill="#0a0a0a"/>
<line x1="459.00" y1="364.70" x2="486.60" y2="364.70" stroke="#0a0a0a" stroke-width="1.2" />
<text x="474.00" y="360.80" font-size="8" text-anchor="middle" font-weight="normal" fill="#0a0a0a" >p=0.066</text>
<rect x="362.00" y="258.80" width="9.40" height="4.60" fill="#a3002c"/>
<text x="376.00" y="265.00" font-size="11" text-anchor="start" font-weight="normal" fill="#0a0a0a" >WT</text>
<rect x="415.30" y="258.80" width="9.40" height="4.60" fill="#2f4c7e"/>
<text x="429.50" y="265.00" font-size="11" text-anchor="start" font-weight="normal" fill="#0a0a0a" >p62<tspan dy="-5" font-size="8">-/-</tspan></text>
<rect x="1" y="1" width="518" height="461" fill="none" stroke="#000" stroke-width="2"/>
</svg>
</body></html>
